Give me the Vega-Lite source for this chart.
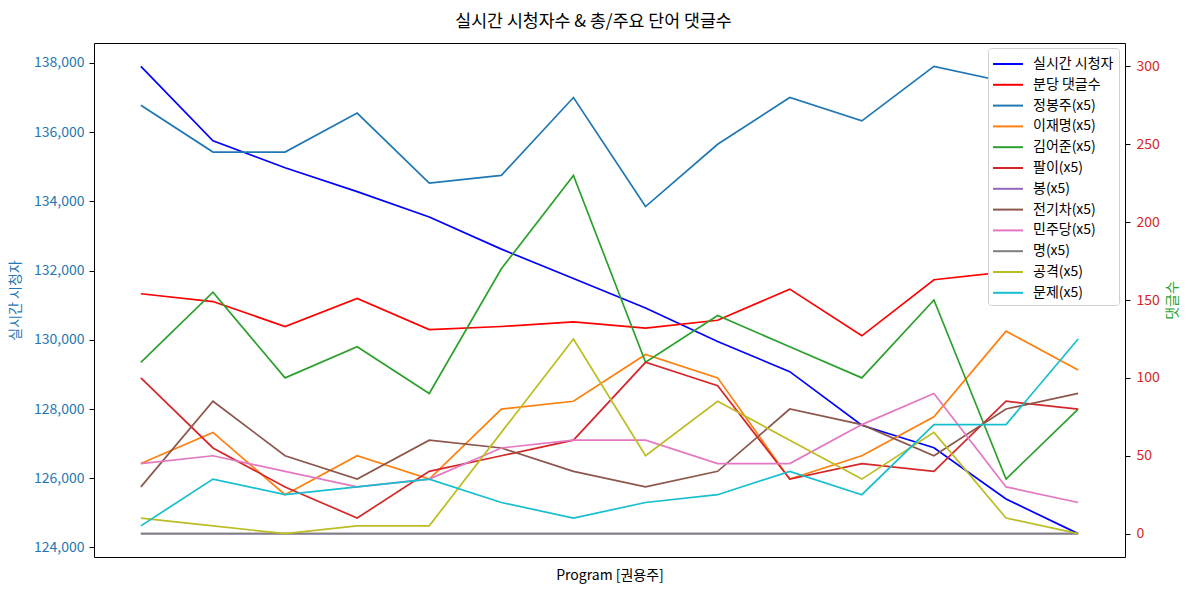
{
  "$schema": "https://vega.github.io/schema/vega-lite/v6.json",
  "width": 1031,
  "height": 514,
  "autosize": {"type": "none"},
  "padding": {"left": 94, "top": 43, "right": 64, "bottom": 35},
  "background": "white",
  "title": {"text": "실시간 시청자수 & 총/주요 단어 댓글수", "fontSize": 17.3, "font": "Noto Sans CJK KR", "fontWeight": "normal", "color": "black", "offset": 13, "anchor": "middle", "dx": -16},
  "config": {
    "font": "Noto Sans CJK KR",
    "view": {"stroke": "black", "strokeWidth": 1},
    "axis": {"grid": false, "domain": false, "tickColor": "black", "tickSize": 5, "labelFontSize": 14, "titleFontSize": 14, "titleFontWeight": "normal", "labelFont": "Noto Sans CJK KR", "titleFont": "Noto Sans CJK KR"}
  },
  "datasets": {
    "viewers": [
      {"i": 0, "s": "실시간 시청자", "v": 137900},
      {"i": 1, "s": "실시간 시청자", "v": 135750},
      {"i": 2, "s": "실시간 시청자", "v": 134970},
      {"i": 3, "s": "실시간 시청자", "v": 134280},
      {"i": 4, "s": "실시간 시청자", "v": 133550},
      {"i": 5, "s": "실시간 시청자", "v": 132620},
      {"i": 6, "s": "실시간 시청자", "v": 131770},
      {"i": 7, "s": "실시간 시청자", "v": 130920},
      {"i": 8, "s": "실시간 시청자", "v": 129950},
      {"i": 9, "s": "실시간 시청자", "v": 129080},
      {"i": 10, "s": "실시간 시청자", "v": 127530},
      {"i": 11, "s": "실시간 시청자", "v": 126880},
      {"i": 12, "s": "실시간 시청자", "v": 125400},
      {"i": 13, "s": "실시간 시청자", "v": 124400}
    ],
    "comments": [
      {"i": 0, "s": "분당 댓글수", "v": 154}, {"i": 1, "s": "분당 댓글수", "v": 149}, {"i": 2, "s": "분당 댓글수", "v": 133}, {"i": 3, "s": "분당 댓글수", "v": 151}, {"i": 4, "s": "분당 댓글수", "v": 131}, {"i": 5, "s": "분당 댓글수", "v": 133}, {"i": 6, "s": "분당 댓글수", "v": 136}, {"i": 7, "s": "분당 댓글수", "v": 132}, {"i": 8, "s": "분당 댓글수", "v": 137}, {"i": 9, "s": "분당 댓글수", "v": 157}, {"i": 10, "s": "분당 댓글수", "v": 127}, {"i": 11, "s": "분당 댓글수", "v": 163}, {"i": 12, "s": "분당 댓글수", "v": 168}, {"i": 13, "s": "분당 댓글수", "v": 161},
      {"i": 0, "s": "정봉주(x5)", "v": 275}, {"i": 1, "s": "정봉주(x5)", "v": 245}, {"i": 2, "s": "정봉주(x5)", "v": 245}, {"i": 3, "s": "정봉주(x5)", "v": 270}, {"i": 4, "s": "정봉주(x5)", "v": 225}, {"i": 5, "s": "정봉주(x5)", "v": 230}, {"i": 6, "s": "정봉주(x5)", "v": 280}, {"i": 7, "s": "정봉주(x5)", "v": 210}, {"i": 8, "s": "정봉주(x5)", "v": 250}, {"i": 9, "s": "정봉주(x5)", "v": 280}, {"i": 10, "s": "정봉주(x5)", "v": 265}, {"i": 11, "s": "정봉주(x5)", "v": 300}, {"i": 12, "s": "정봉주(x5)", "v": 290}, {"i": 13, "s": "정봉주(x5)", "v": 220},
      {"i": 0, "s": "이재명(x5)", "v": 45}, {"i": 1, "s": "이재명(x5)", "v": 65}, {"i": 2, "s": "이재명(x5)", "v": 25}, {"i": 3, "s": "이재명(x5)", "v": 50}, {"i": 4, "s": "이재명(x5)", "v": 35}, {"i": 5, "s": "이재명(x5)", "v": 80}, {"i": 6, "s": "이재명(x5)", "v": 85}, {"i": 7, "s": "이재명(x5)", "v": 115}, {"i": 8, "s": "이재명(x5)", "v": 100}, {"i": 9, "s": "이재명(x5)", "v": 35}, {"i": 10, "s": "이재명(x5)", "v": 50}, {"i": 11, "s": "이재명(x5)", "v": 75}, {"i": 12, "s": "이재명(x5)", "v": 130}, {"i": 13, "s": "이재명(x5)", "v": 105},
      {"i": 0, "s": "김어준(x5)", "v": 110}, {"i": 1, "s": "김어준(x5)", "v": 155}, {"i": 2, "s": "김어준(x5)", "v": 100}, {"i": 3, "s": "김어준(x5)", "v": 120}, {"i": 4, "s": "김어준(x5)", "v": 90}, {"i": 5, "s": "김어준(x5)", "v": 170}, {"i": 6, "s": "김어준(x5)", "v": 230}, {"i": 7, "s": "김어준(x5)", "v": 110}, {"i": 8, "s": "김어준(x5)", "v": 140}, {"i": 9, "s": "김어준(x5)", "v": 120}, {"i": 10, "s": "김어준(x5)", "v": 100}, {"i": 11, "s": "김어준(x5)", "v": 150}, {"i": 12, "s": "김어준(x5)", "v": 35}, {"i": 13, "s": "김어준(x5)", "v": 80},
      {"i": 0, "s": "팔이(x5)", "v": 100}, {"i": 1, "s": "팔이(x5)", "v": 55}, {"i": 2, "s": "팔이(x5)", "v": 30}, {"i": 3, "s": "팔이(x5)", "v": 10}, {"i": 4, "s": "팔이(x5)", "v": 40}, {"i": 5, "s": "팔이(x5)", "v": 50}, {"i": 6, "s": "팔이(x5)", "v": 60}, {"i": 7, "s": "팔이(x5)", "v": 110}, {"i": 8, "s": "팔이(x5)", "v": 95}, {"i": 9, "s": "팔이(x5)", "v": 35}, {"i": 10, "s": "팔이(x5)", "v": 45}, {"i": 11, "s": "팔이(x5)", "v": 40}, {"i": 12, "s": "팔이(x5)", "v": 85}, {"i": 13, "s": "팔이(x5)", "v": 80},
      {"i": 0, "s": "봉(x5)", "v": 0}, {"i": 1, "s": "봉(x5)", "v": 0}, {"i": 2, "s": "봉(x5)", "v": 0}, {"i": 3, "s": "봉(x5)", "v": 0}, {"i": 4, "s": "봉(x5)", "v": 0}, {"i": 5, "s": "봉(x5)", "v": 0}, {"i": 6, "s": "봉(x5)", "v": 0}, {"i": 7, "s": "봉(x5)", "v": 0}, {"i": 8, "s": "봉(x5)", "v": 0}, {"i": 9, "s": "봉(x5)", "v": 0}, {"i": 10, "s": "봉(x5)", "v": 0}, {"i": 11, "s": "봉(x5)", "v": 0}, {"i": 12, "s": "봉(x5)", "v": 0}, {"i": 13, "s": "봉(x5)", "v": 0},
      {"i": 0, "s": "전기차(x5)", "v": 30}, {"i": 1, "s": "전기차(x5)", "v": 85}, {"i": 2, "s": "전기차(x5)", "v": 50}, {"i": 3, "s": "전기차(x5)", "v": 35}, {"i": 4, "s": "전기차(x5)", "v": 60}, {"i": 5, "s": "전기차(x5)", "v": 55}, {"i": 6, "s": "전기차(x5)", "v": 40}, {"i": 7, "s": "전기차(x5)", "v": 30}, {"i": 8, "s": "전기차(x5)", "v": 40}, {"i": 9, "s": "전기차(x5)", "v": 80}, {"i": 10, "s": "전기차(x5)", "v": 70}, {"i": 11, "s": "전기차(x5)", "v": 50}, {"i": 12, "s": "전기차(x5)", "v": 80}, {"i": 13, "s": "전기차(x5)", "v": 90},
      {"i": 0, "s": "민주당(x5)", "v": 45}, {"i": 1, "s": "민주당(x5)", "v": 50}, {"i": 2, "s": "민주당(x5)", "v": 40}, {"i": 3, "s": "민주당(x5)", "v": 30}, {"i": 4, "s": "민주당(x5)", "v": 35}, {"i": 5, "s": "민주당(x5)", "v": 55}, {"i": 6, "s": "민주당(x5)", "v": 60}, {"i": 7, "s": "민주당(x5)", "v": 60}, {"i": 8, "s": "민주당(x5)", "v": 45}, {"i": 9, "s": "민주당(x5)", "v": 45}, {"i": 10, "s": "민주당(x5)", "v": 70}, {"i": 11, "s": "민주당(x5)", "v": 90}, {"i": 12, "s": "민주당(x5)", "v": 30}, {"i": 13, "s": "민주당(x5)", "v": 20},
      {"i": 0, "s": "명(x5)", "v": 0}, {"i": 1, "s": "명(x5)", "v": 0}, {"i": 2, "s": "명(x5)", "v": 0}, {"i": 3, "s": "명(x5)", "v": 0}, {"i": 4, "s": "명(x5)", "v": 0}, {"i": 5, "s": "명(x5)", "v": 0}, {"i": 6, "s": "명(x5)", "v": 0}, {"i": 7, "s": "명(x5)", "v": 0}, {"i": 8, "s": "명(x5)", "v": 0}, {"i": 9, "s": "명(x5)", "v": 0}, {"i": 10, "s": "명(x5)", "v": 0}, {"i": 11, "s": "명(x5)", "v": 0}, {"i": 12, "s": "명(x5)", "v": 0}, {"i": 13, "s": "명(x5)", "v": 0},
      {"i": 0, "s": "공격(x5)", "v": 10}, {"i": 1, "s": "공격(x5)", "v": 5}, {"i": 2, "s": "공격(x5)", "v": 0}, {"i": 3, "s": "공격(x5)", "v": 5}, {"i": 4, "s": "공격(x5)", "v": 5}, {"i": 5, "s": "공격(x5)", "v": 65}, {"i": 6, "s": "공격(x5)", "v": 125}, {"i": 7, "s": "공격(x5)", "v": 50}, {"i": 8, "s": "공격(x5)", "v": 85}, {"i": 9, "s": "공격(x5)", "v": 60}, {"i": 10, "s": "공격(x5)", "v": 35}, {"i": 11, "s": "공격(x5)", "v": 65}, {"i": 12, "s": "공격(x5)", "v": 10}, {"i": 13, "s": "공격(x5)", "v": 0},
      {"i": 0, "s": "문제(x5)", "v": 5}, {"i": 1, "s": "문제(x5)", "v": 35}, {"i": 2, "s": "문제(x5)", "v": 25}, {"i": 3, "s": "문제(x5)", "v": 30}, {"i": 4, "s": "문제(x5)", "v": 35}, {"i": 5, "s": "문제(x5)", "v": 20}, {"i": 6, "s": "문제(x5)", "v": 10}, {"i": 7, "s": "문제(x5)", "v": 20}, {"i": 8, "s": "문제(x5)", "v": 25}, {"i": 9, "s": "문제(x5)", "v": 40}, {"i": 10, "s": "문제(x5)", "v": 25}, {"i": 11, "s": "문제(x5)", "v": 70}, {"i": 12, "s": "문제(x5)", "v": 70}, {"i": 13, "s": "문제(x5)", "v": 125}
    ]
  },
  "layer": [
    {
      "data": {"name": "viewers"},
      "mark": {"type": "line", "strokeWidth": 1.7},
      "encoding": {
        "x": {"field": "i", "type": "quantitative", "scale": {"domain": [-0.65, 13.65], "nice": false, "zero": false},
              "axis": {"title": "Program [권용주]", "labels": false, "ticks": false, "domain": false, "titleColor": "black", "titlePadding": 11}},
        "y": {"field": "v", "type": "quantitative", "scale": {"domain": [123725, 138575], "nice": false, "zero": false},
              "axis": {"orient": "left", "title": "실시간 시청자", "values": [124000, 126000, 128000, 130000, 132000, 134000, 136000, 138000], "format": ",d", "labelColor": "#1f77b4", "titleColor": "#1f77b4", "titlePadding": 11, "labelPadding": 5}},
        "color": {"field": "s", "type": "nominal",
                  "scale": {"domain": ["실시간 시청자", "분당 댓글수", "정봉주(x5)", "이재명(x5)", "김어준(x5)", "팔이(x5)", "봉(x5)", "전기차(x5)", "민주당(x5)", "명(x5)", "공격(x5)", "문제(x5)"],
                            "range": ["#0000ff", "#ff0000", "#1f77b4", "#ff7f0e", "#2ca02c", "#d62728", "#9467bd", "#8c564b", "#e377c2", "#7f7f7f", "#bcbd22", "#17becf"]},
                  "legend": {"orient": "none", "legendX": 894, "legendY": 5, "title": null, "symbolType": "M-1.1,0H1.9", "symbolSize": 400, "symbolStrokeWidth": 2, "labelFontSize": 14, "labelFont": "Noto Sans CJK KR", "labelColor": "black", "fillColor": "white", "strokeColor": "#d0d0d0", "cornerRadius": 3, "padding": 5, "rowPadding": 2.8, "labelOffset": 18, "labelLimit": 200}}
      }
    },
    {
      "data": {"name": "comments"},
      "mark": {"type": "line", "strokeWidth": 1.7},
      "encoding": {
        "x": {"field": "i", "type": "quantitative"},
        "y": {"field": "v", "type": "quantitative", "scale": {"domain": [-15, 315], "nice": false, "zero": false},
              "axis": {"orient": "right", "title": "댓글수", "values": [0, 50, 100, 150, 200, 250, 300], "labelColor": "#d62728", "titleColor": "#2ca02c", "titleAngle": 270, "titleBaseline": "top", "titlePadding": 6, "labelPadding": 6}},
        "color": {"field": "s", "type": "nominal"}
      }
    }
  ],
  "resolve": {"scale": {"y": "independent"}}
}
